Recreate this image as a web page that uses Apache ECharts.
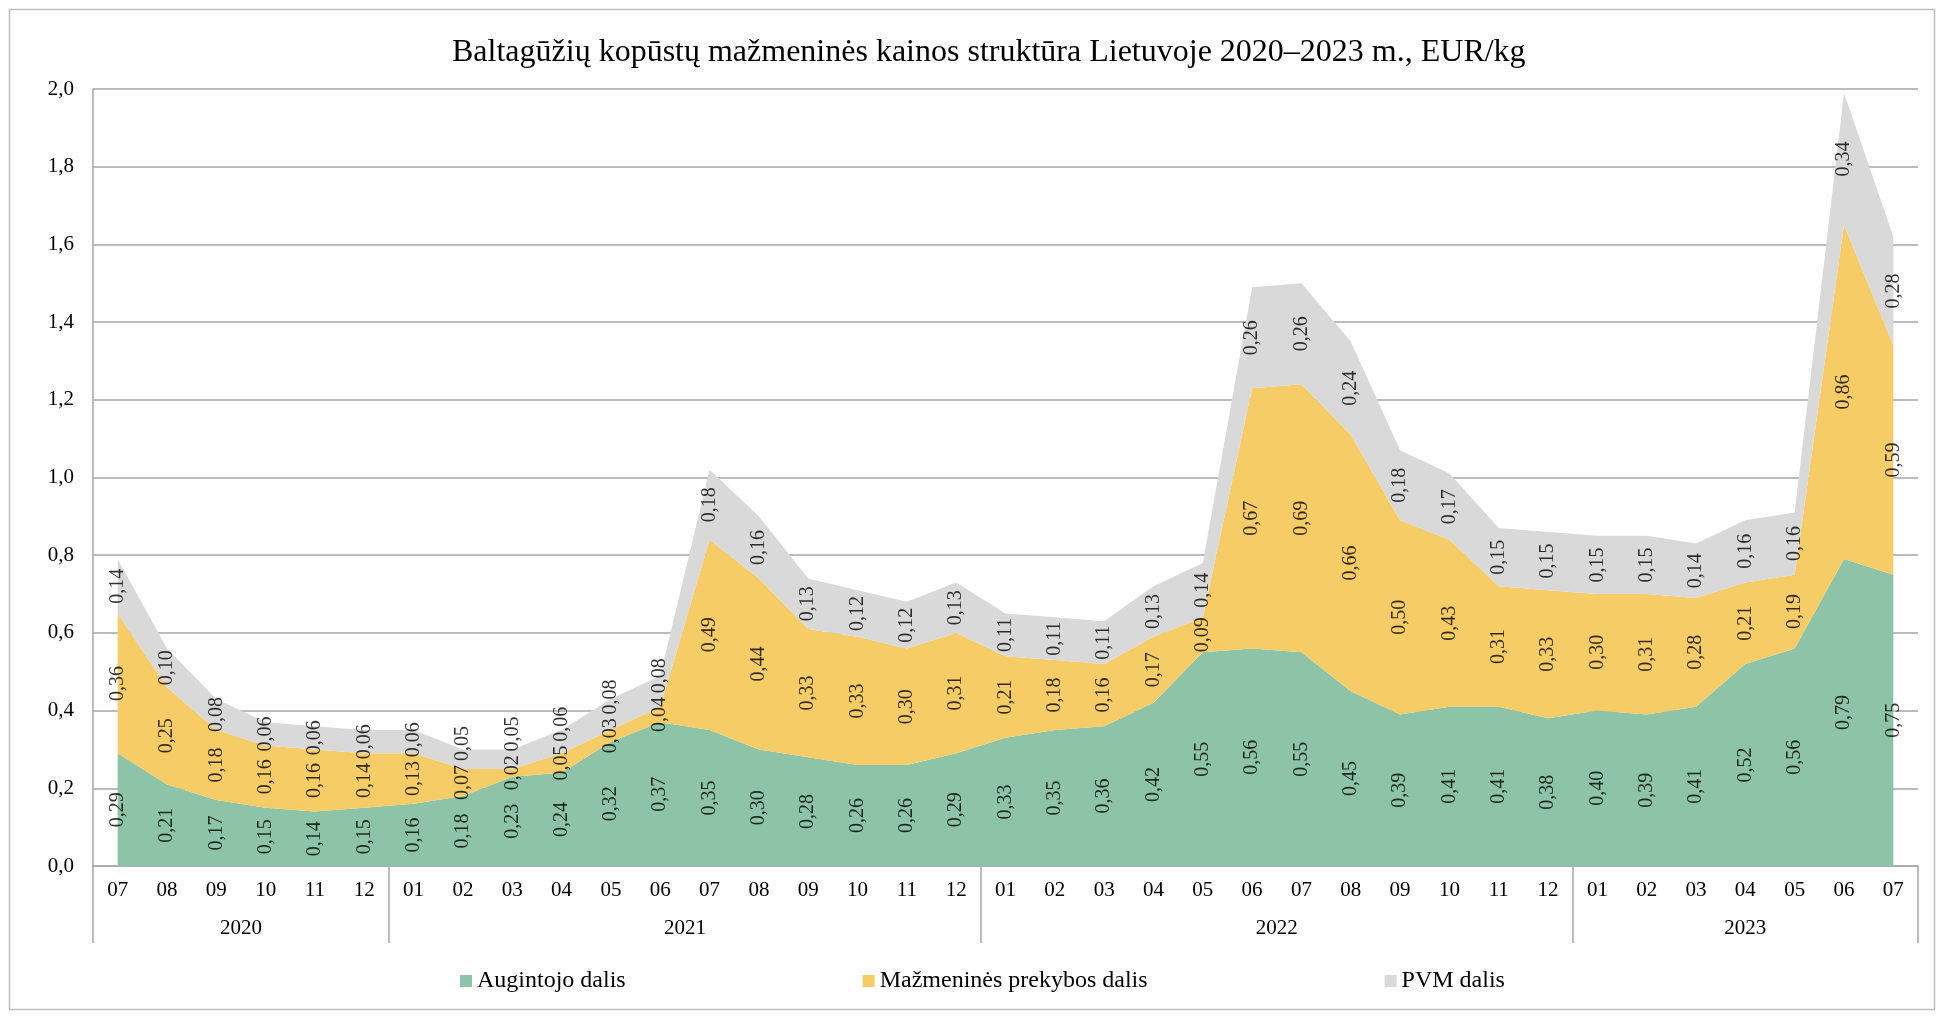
<!DOCTYPE html>
<html>
<head>
<meta charset="utf-8">
<title>Baltagūžių kopūstų kainos struktūra</title>
<script src="https://cdn.jsdelivr.net/npm/echarts@6/dist/echarts.min.js"></script>
<style>
    html, body { margin: 0; padding: 0; background: #fff; }
    #chart { width: 1939px; height: 1017px; }
</style>
</head>
<body>
<div id="chart"></div>
<script>
    // Categories: months grouped by year
    var years = ['2020', '2021', '2022', '2023'];
    var yearMonths = [
        ['07', '08', '09', '10', '11', '12'],
        ['01', '02', '03', '04', '05', '06', '07', '08', '09', '10', '11', '12'],
        ['01', '02', '03', '04', '05', '06', '07', '08', '09', '10', '11', '12'],
        ['01', '02', '03', '04', '05', '06', '07']
    ];

    // Series values, EUR/kg
    var grower = [
        0.29, 0.21, 0.17, 0.15, 0.14, 0.15,
        0.16, 0.18, 0.23, 0.24, 0.32, 0.37, 0.35, 0.30, 0.28, 0.26, 0.26, 0.29,
        0.33, 0.35, 0.36, 0.42, 0.55, 0.56, 0.55, 0.45, 0.39, 0.41, 0.41, 0.38,
        0.40, 0.39, 0.41, 0.52, 0.56, 0.79, 0.75
    ];
    var retail = [
        0.36, 0.25, 0.18, 0.16, 0.16, 0.14,
        0.13, 0.07, 0.02, 0.05, 0.03, 0.04, 0.49, 0.44, 0.33, 0.33, 0.30, 0.31,
        0.21, 0.18, 0.16, 0.17, 0.09, 0.67, 0.69, 0.66, 0.50, 0.43, 0.31, 0.33,
        0.30, 0.31, 0.28, 0.21, 0.19, 0.86, 0.59
    ];
    var vat = [
        0.14, 0.10, 0.08, 0.06, 0.06, 0.06,
        0.06, 0.05, 0.05, 0.06, 0.08, 0.08, 0.18, 0.16, 0.13, 0.12, 0.12, 0.13,
        0.11, 0.11, 0.11, 0.13, 0.14, 0.26, 0.26, 0.24, 0.18, 0.17, 0.15, 0.15,
        0.15, 0.15, 0.14, 0.16, 0.16, 0.34, 0.28
    ];

    var seriesNames = ['Augintojo dalis', 'Mažmeninės prekybos dalis', 'PVM dalis'];
    var seriesColors = ['#8dc3a7', '#f5cc66', '#d9d9d9'];

    var FONT = "'Liberation Serif', 'Times New Roman', serif";
    var GRID_COLOR = '#a6a6a6';
    var LABEL_GAP = 0.1; // min spacing of stacked labels, in axis units

    /* -- Month axis and year axis (year axis works in half-month steps) -- */

    var months = [];
    var yearBounds = [0];
    var yearCenters = {};
    yearMonths.forEach(function (list, i) {
        var start = months.length;
        months = months.concat(list);
        yearCenters[start * 2 + list.length] = years[i];
        yearBounds.push(months.length * 2);
    });
    var yearAxisData = [];
    for (var h = 0; h <= months.length * 2; h++) {
        yearAxisData.push(yearCenters[h] || '');
    }

    function fmt(v) {
        return v.toFixed(2).replace('.', ',');
    }

    var stacks = [grower, retail, vat];

    // Label anchors: middle of each band, nudged up so thin bands don't collide.
    var anchors = stacks.map(function () { return []; });
    months.forEach(function (m, i) {
        var base = 0, prev = -Infinity;
        stacks.forEach(function (arr, k) {
            var y = Math.max(base + arr[i] / 2, prev + LABEL_GAP);
            anchors[k].push({ value: [i, y], raw: arr[i] });
            prev = y;
            base += arr[i];
        });
    });

    var series = stacks.map(function (values, k) {
        return {
            name: seriesNames[k],
            type: 'line',
            stack: 'price',
            data: values,
            symbol: 'none',
            lineStyle: { width: 0 },
            itemStyle: { color: seriesColors[k] },
            areaStyle: { color: seriesColors[k], opacity: 1 },
            silent: true
        };
    });

    anchors.forEach(function (data) {
        series.push({
            type: 'scatter',
            data: data,
            symbolSize: 1,
            itemStyle: { color: 'rgba(0,0,0,0)' },
            silent: true,
            z: 5,
            label: {
                show: true,
                position: 'inside',
                rotate: 90,
                fontFamily: FONT,
                fontSize: 20,
                color: '#000',
                formatter: function (p) { return fmt(p.data.raw); }
            }
        });
    });

    var chart = echarts.init(document.getElementById('chart'));
    chart.setOption({
        animation: false,
        textStyle: { fontFamily: FONT },
        title: {
            text: 'Baltagūžių kopūstų mažmeninės kainos struktūra Lietuvoje 2020–2023 m., EUR/kg',
            left: 447,
            top: 32,
            textStyle: { fontFamily: FONT, fontSize: 32, fontWeight: 'normal', color: '#000' }
        },
        legend: {
            data: seriesNames,
            top: 964,
            left: 455,
            itemGap: 237,
            itemWidth: 12,
            itemHeight: 12,
            icon: 'rect',
            textStyle: { fontFamily: FONT, fontSize: 24, color: '#000' }
        },
        grid: { left: 93, right: 21, top: 89, bottom: 151 },
        xAxis: [{
            type: 'category',
            data: months,
            boundaryGap: true,
            position: 'bottom',
            axisLine: { show: true, lineStyle: { color: GRID_COLOR, width: 1.5 } },
            axisTick: { show: false },
            axisLabel: { fontFamily: FONT, fontSize: 21, color: '#000', margin: 14, interval: 0 }
        }, {
            type: 'category',
            data: yearAxisData,
            boundaryGap: false,
            position: 'bottom',
            axisLine: { show: false },
            axisTick: {
                show: true,
                length: 77,
                lineStyle: { color: GRID_COLOR, width: 1.5 },
                interval: function (i) { return yearBounds.indexOf(i) >= 0; }
            },
            axisLabel: {
                fontFamily: FONT, fontSize: 21, color: '#000', margin: 52,
                interval: function (i) { return !!yearCenters[i]; }
            },
            splitLine: { show: false }
        }],
        yAxis: {
            type: 'value',
            min: 0,
            max: 2,
            interval: 0.2,
            axisLine: { show: true, lineStyle: { color: GRID_COLOR, width: 1.5 } },
            axisTick: { show: false },
            axisLabel: {
                fontFamily: FONT, fontSize: 21, color: '#000', margin: 19,
                formatter: function (v) { return v.toFixed(1).replace('.', ','); }
            },
            splitLine: { lineStyle: { color: GRID_COLOR, width: 1.5 } }
        },
        graphic: [{
            type: 'rect',
            shape: { x: 9.5, y: 9.5, width: 1925, height: 1000 },
            style: { fill: 'none', stroke: '#bfbfbf', lineWidth: 1.5 },
            silent: true,
            z: -1
        }],
        series: series
    });
</script>
</body>
</html>
